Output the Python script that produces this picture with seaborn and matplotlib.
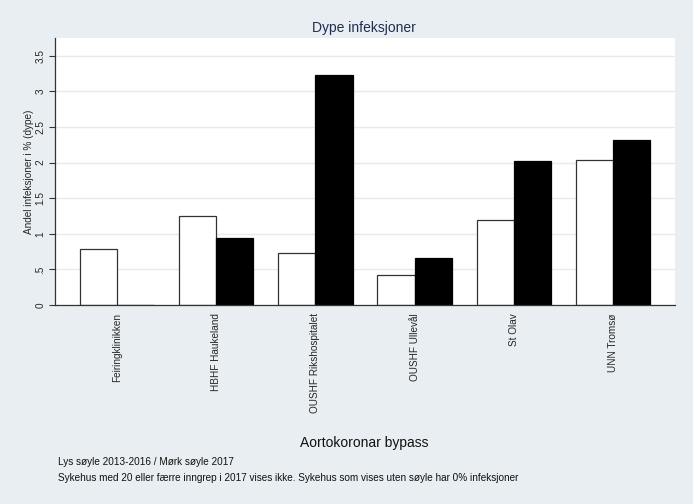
import matplotlib
matplotlib.use("Agg")
import matplotlib.pyplot as plt
import seaborn as sns
import pandas as pd

hospitals = ["Feiringklinikken", "HBHF Haukeland", "OUSHF Rikshospitalet",
             "OUSHF Ullevål", "St Olav", "UNN Tromsø"]
periods = ["2013-2016", "2017"]
values_2013_2016 = [0.79, 1.25, 0.735, 0.426, 1.194, 2.04]
values_2017 = [0.0, 0.945, 3.226, 0.656, 2.018, 2.32]
yticks = [0, 0.5, 1, 1.5, 2, 2.5, 3, 3.5]
ytick_labels = ["0", ".5", "1", "1.5", "2", "2.5", "3", "3.5"]

df = pd.DataFrame({
    "sykehus": hospitals * 2,
    "periode": [periods[0]] * len(hospitals) + [periods[1]] * len(hospitals),
    "andel": values_2013_2016 + values_2017,
})

bg = "#e8eef1"
sns.set_style("white")
plt.rcParams["font.family"] = ["Liberation Sans", "DejaVu Sans"]

fig = plt.figure(figsize=(6.93, 5.04), dpi=100, facecolor=bg)
ax = fig.add_axes([55 / 693, 1 - 305 / 504, (675 - 55) / 693, (305 - 38) / 504])
ax.set_facecolor("white")

sns.barplot(data=df, x="sykehus", y="andel", hue="periode",
            palette=["white", "black"], width=0.75, gap=0,
            edgecolor="#333333", linewidth=0.9, legend=False, ax=ax,
            errorbar=None)
# Dark bars: black edge
for patch in ax.patches[len(hospitals):]:
    patch.set_edgecolor("black")

ax.set_xlim(-0.626, 5.626)
ax.set_ylim(0, 3.75)
ax.set_yticks(yticks)
ax.set_yticklabels(ytick_labels, rotation=90, va="center", fontsize=7.2)
ax.grid(axis="y", color="#eaeaea", linewidth=1)
ax.set_axisbelow(True)
ax.tick_params(axis="y", length=4, width=0.8, color="#333333", pad=3, left=True)
ax.tick_params(axis="x", length=0, pad=6)
ax.set_xticks(range(len(hospitals)))
ax.set_xticklabels(hospitals, rotation=90, fontsize=7.2, va="top", ha="center")

for s in ["top", "right"]:
    ax.spines[s].set_visible(False)
for s in ["left", "bottom"]:
    ax.spines[s].set_color("#333333")
    ax.spines[s].set_linewidth(0.9)

ax.set_ylabel("Andel infeksjoner i % (dype)", fontsize=7.2, labelpad=1)
ax.set_xlabel("")

fig.text(364 / 693, 1 - 28 / 504, "Dype infeksjoner", ha="center", va="center",
         fontsize=10, color="#1f2d4f")
fig.text(364 / 693, 1 - 443 / 504, "Aortokoronar bypass", ha="center", va="center",
         fontsize=10, color="#111111")
fig.text(58 / 693, 1 - 462 / 504, "Lys søyle 2013-2016 / Mørk søyle 2017",
         ha="left", va="center", fontsize=7.2, color="#111111")
fig.text(58 / 693, 1 - 478 / 504,
         "Sykehus med 20 eller færre inngrep i 2017 vises ikke. Sykehus som vises uten søyle har 0% infeksjoner",
         ha="left", va="center", fontsize=7.2, color="#111111")

fig.savefig("out.png", dpi=100, facecolor=bg)
